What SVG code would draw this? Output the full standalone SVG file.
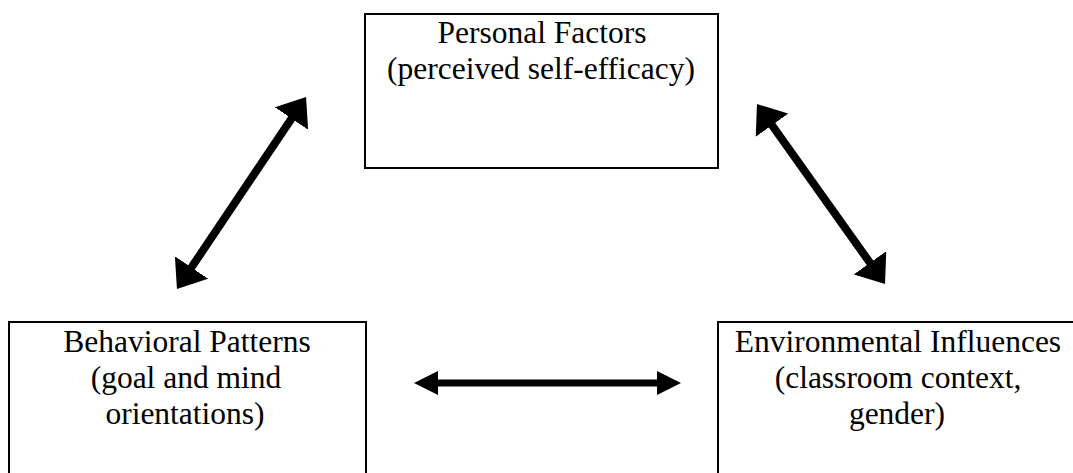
<svg xmlns="http://www.w3.org/2000/svg" width="1073" height="473" viewBox="0 0 1073 473">
  <style>
    .box { fill: #ffffff; stroke: #000000; stroke-width: 2; }
    .lbl { font-family: "Liberation Serif", "Times New Roman", serif; font-size: 31.5px; fill: #000000; text-anchor: middle; }
    .diag { stroke: #000000; stroke-width: 8; fill: none; marker-start: url(#headD); marker-end: url(#headD); }
    .horiz { stroke: #000000; stroke-width: 7; fill: none; marker-start: url(#headH); marker-end: url(#headH); }
  </style>
  <defs>
    <marker id="headD" markerUnits="userSpaceOnUse" markerWidth="26" markerHeight="40" viewBox="0 0 26 40" refX="8" refY="20" orient="auto-start-reverse">
      <path d="M0,0 L26,20 L0,40 Z" fill="#000000"/>
    </marker>
    <marker id="headH" markerUnits="userSpaceOnUse" markerWidth="24" markerHeight="24" viewBox="0 0 24 24" refX="8" refY="12" orient="auto-start-reverse">
      <path d="M0,0 L24,12 L0,24 Z" fill="#000000"/>
    </marker>
  </defs>
  <rect width="1073" height="473" fill="#ffffff"/>

  <g id="personal">
    <rect class="box" x="365" y="14" width="353" height="154"/>
    <text class="lbl" x="542" y="43">Personal Factors</text>
    <text class="lbl" x="541" y="79">(perceived self-efficacy)</text>
  </g>

  <g id="behavioral">
    <rect class="box" x="9" y="322" width="357" height="170"/>
    <text class="lbl" x="187" y="352">Behavioral Patterns</text>
    <text class="lbl" x="186" y="388">(goal and mind</text>
    <text class="lbl" x="185" y="424">orientations)</text>
  </g>

  <g id="environmental">
    <rect class="box" x="718" y="322" width="380" height="170"/>
    <text class="lbl" x="898" y="352">Environmental Influences</text>
    <text class="lbl" x="898" y="388">(classroom context,</text>
    <text class="lbl" x="897" y="424">gender)</text>
  </g>

  <g id="connectors">
    <line class="diag" x1="187.0" y1="274.1" x2="296.0" y2="111.9"/>
    <line class="diag" x1="767.4" y1="118.7" x2="874.6" y2="269.3"/>
    <line class="horiz" x1="430" y1="383" x2="665" y2="383"/>
  </g>
</svg>
